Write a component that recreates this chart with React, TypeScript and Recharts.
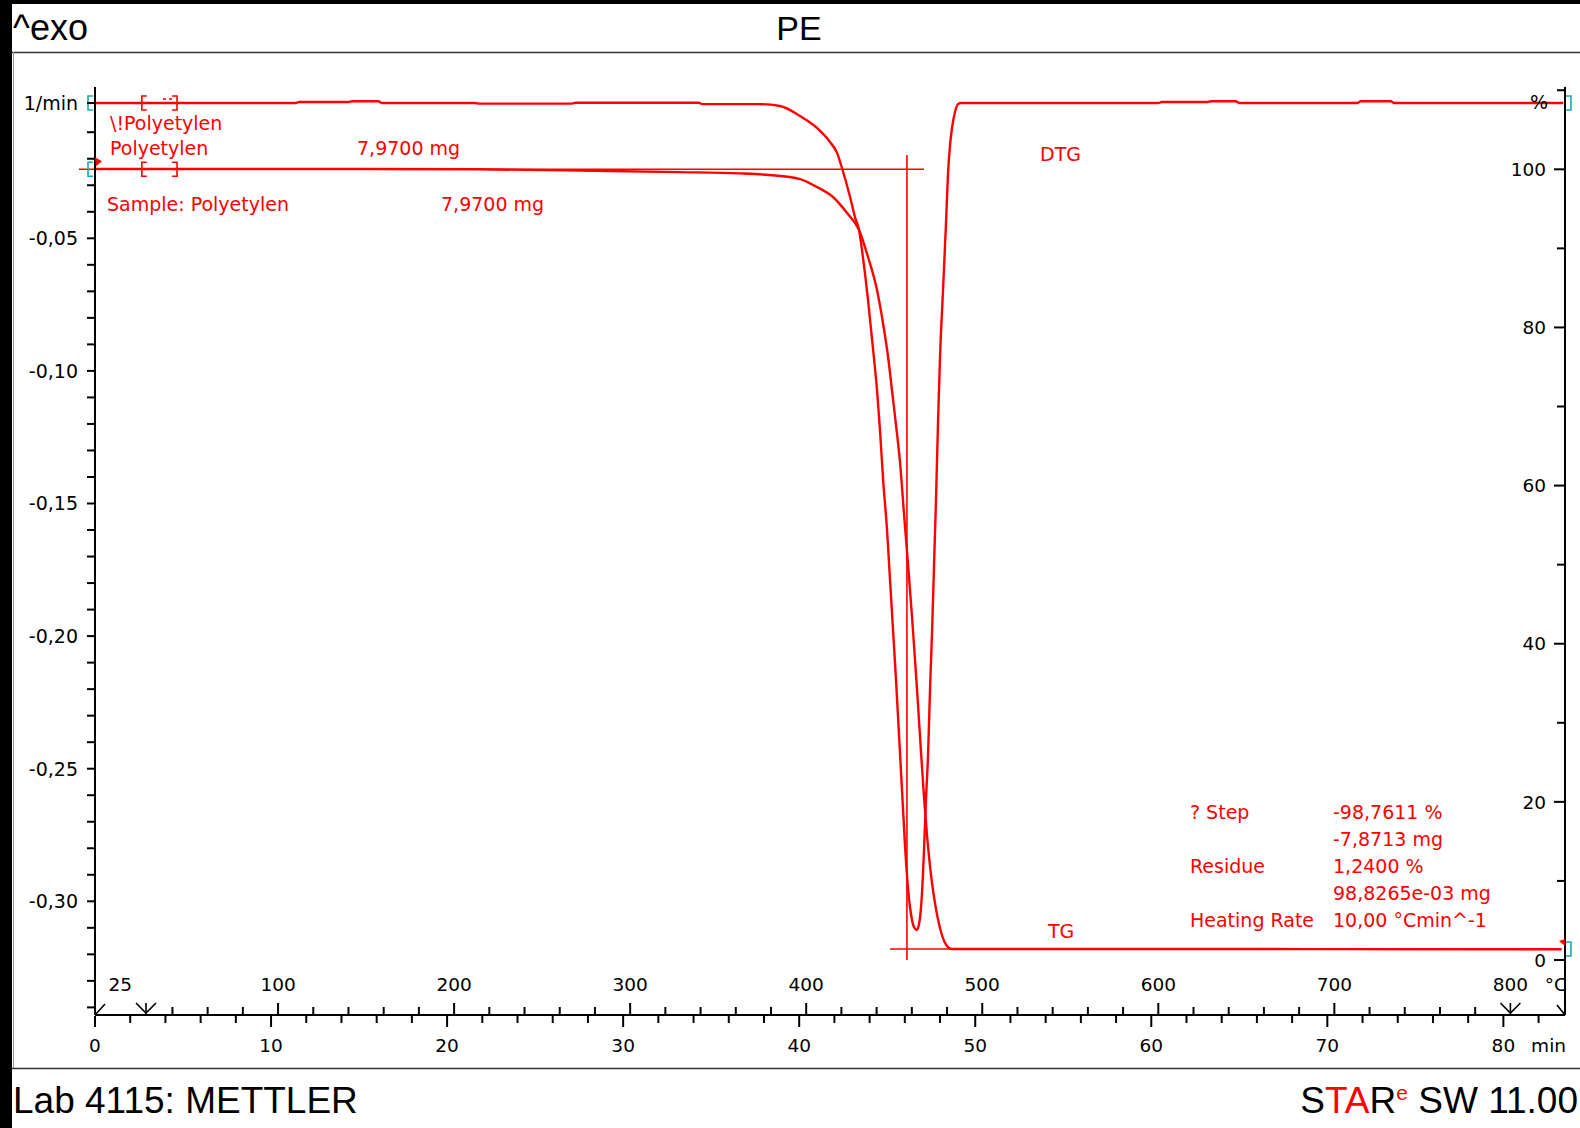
import React from 'react';
import { ComposedChart, Line, XAxis, YAxis, ReferenceLine, ReferenceDot } from 'recharts';

const W = 1580;
const H = 1128;
const RED = '#ff0000';
const CYAN = '#1aa9b4';
const TXT = '"DejaVu Sans", Verdana, sans-serif';
const HEAD = '"Liberation Sans", Arial, sans-serif';

// DTG curve (1/min) against time (min)
const dtgTime = [0, 11.4, 11.6, 14.4, 14.6, 16.1, 16.3, 21.6, 21.8, 27.1, 27.3, 34.3, 34.5, 37.66, 38.91, 40.05, 41.01, 41.75, 42.15, 42.43, 42.89, 43.17, 43.40, 43.62, 43.91, 44.19, 44.42, 44.59, 44.76, 44.99, 45.16, 45.33, 45.50, 45.67, 45.84, 46.01, 46.18, 46.35, 46.52, 46.69, 46.86, 46.97, 47.09, 47.20, 47.32, 47.43, 47.55, 47.66, 47.77, 47.89, 48.00, 48.17, 48.34, 48.45, 48.57, 48.68, 48.85, 49.02, 49.19, 60.4, 60.6, 63.2, 63.4, 64.8, 65.0, 71.7, 71.9, 73.6, 73.8, 83.4];
const dtgValue = [0.0010, 0.0010, 0.0014, 0.0014, 0.0017, 0.0017, 0.0010, 0.0010, 0.0008, 0.0008, 0.0011, 0.0011, 0.0006, 0.0006, -0.0001, -0.0039, -0.0084, -0.0137, -0.0178, -0.0235, -0.0344, -0.0420, -0.0469, -0.0571, -0.0733, -0.0914, -0.1072, -0.1223, -0.1404, -0.1600, -0.1789, -0.1977, -0.2165, -0.2373, -0.2580, -0.2788, -0.2950, -0.3048, -0.3097, -0.3108, -0.3063, -0.2976, -0.2807, -0.2618, -0.2448, -0.2203, -0.1977, -0.1732, -0.1487, -0.1185, -0.0947, -0.0695, -0.0442, -0.0261, -0.0148, -0.0084, -0.0024, 0.0006, 0.0010, 0.0010, 0.0014, 0.0014, 0.0017, 0.0017, 0.0010, 0.0010, 0.0017, 0.0017, 0.0010, 0.0010];

// TG curve (%) against time (min)
const tgTime = [0, 10, 21.7, 28.3, 33.2, 36.6, 38.3, 40.05, 41.01, 41.92, 42.72, 43.40, 43.91, 44.42, 44.76, 45.05, 45.27, 45.50, 45.73, 45.95, 46.18, 46.41, 46.58, 46.75, 46.92, 47.09, 47.26, 47.43, 47.60, 47.77, 48.00, 48.23, 48.45, 48.68, 55, 68.8, 83.3];
const tgValue = [100.04, 100.04, 100.0, 99.82, 99.65, 99.49, 99.28, 98.77, 97.76, 96.50, 94.47, 92.32, 88.91, 84.73, 80.56, 76.26, 72.09, 67.66, 62.86, 56.53, 50.08, 43.38, 37.94, 32.25, 26.30, 20.61, 15.81, 11.89, 8.85, 6.45, 4.05, 2.40, 1.64, 1.39, 1.40, 1.38, 1.35];

// time axis (min)
const timeDomain = [0, 83.5];
const timeTicks = [0, 2, 4, 6, 8, 10, 12, 14, 16, 18, 20, 22, 24, 26, 28, 30, 32, 34, 36, 38, 40, 42, 44, 46, 48, 50, 52, 54, 56, 58, 60, 62, 64, 66, 68, 70, 72, 74, 76, 78, 80, 82];
const timeLabels = [0, 10, 20, 30, 40, 50, 60, 70, 80];
// temperature scale (°C) shown on the same axis via the heating program
const heatingRate = 10.0;
const tempAtStart = -3.98;
const tempTicks = [40, 60, 80, 100, 120, 140, 160, 180, 200, 220, 240, 260, 280, 300, 320, 340, 360, 380, 400, 420, 440, 460, 480, 500, 520, 540, 560, 580, 600, 620, 640, 660, 680, 700, 720, 740, 760, 780];
const tempLabels = [100, 200, 300, 400, 500, 600, 700];
const tempSegment = [25, 800];
// left axis DTG (1/min)
const dtgDomain = [-0.34287, 0.00705];
const dtgUnitTick = 0.001;
const dtgTicks = [0.001, -0.01, -0.02, -0.03, -0.04, -0.05, -0.06, -0.07, -0.08, -0.09, -0.10, -0.11, -0.12, -0.13, -0.14, -0.15, -0.16, -0.17, -0.18, -0.19, -0.20, -0.21, -0.22, -0.23, -0.24, -0.25, -0.26, -0.27, -0.28, -0.29, -0.30, -0.31, -0.32, -0.33, -0.34];
const dtgLabels = [-0.05, -0.10, -0.15, -0.20, -0.25, -0.30];
// right axis TG (%)
const tgDomain = [-6.956, 110.41];
const tgTicks = [0, 10, 20, 30, 40, 50, 60, 70, 80, 90, 100, 110];
const tgLabels = [0, 20, 40, 60, 80, 100];

// evaluation construction (TG onset / residue)
const onsetLevel = 100.0;
const onsetSpan = [-0.91, 47.09];
const onsetTime = 46.12;
const onsetVertical = [101.81, 0.0];
const residueLevel = 1.39;
const residueSpan = [45.16, 83.3];
const dtgBase = 0.001;
const bracketTimes = [2.66, 4.66];

const near = (a: number, b: number) => Math.abs(a - b) < 1e-6;
const fmt = (v: number) => v.toFixed(2).replace('.', ',');
const tempToTime = (T: number) => (T - tempAtStart) / heatingRate;

type TickDef = { v: number; kind: string; label?: number };
const tickDefs: TickDef[] = [
  ...timeTicks.map((v) => ({ v, kind: 'time' })),
  ...tempTicks.map((T) => ({ v: tempToTime(T), kind: 'temp', label: T })),
  ...tempSegment.map((T) => ({ v: tempToTime(T), kind: 'seg', label: T })),
  { v: timeDomain[1], kind: 'end' },
];
const xTicks = tickDefs.map((d) => d.v);

const DtgTick = (p: any) => {
  const { x, y, payload } = p;
  const v = payload.value;
  const unit = near(v, dtgUnitTick);
  const major = dtgLabels.some((l) => near(l, v));
  return (
    <g>
      <line x1={x - 8} x2={x} y1={y} y2={y} stroke="#000" strokeWidth={2} />
      {(unit || major) && (
        <text x={x - 17} y={y} dy="0.36em" textAnchor="end" fontFamily={TXT} fontSize={19} fill="#000">
          {unit ? '1/min' : fmt(v)}
        </text>
      )}
    </g>
  );
};

const TgTick = (p: any) => {
  const { x, y, payload } = p;
  const v = payload.value;
  const major = tgLabels.some((l) => near(l, v));
  return (
    <g>
      <line x1={x - (major ? 11 : 8)} x2={x} y1={y} y2={y} stroke="#000" strokeWidth={2} />
      {major && (
        <text x={x - 19} y={y} dy="0.36em" textAnchor="end" fontFamily={TXT} fontSize={18.5} fill="#000">
          {v}
        </text>
      )}
      {near(v, 110) && (
        <text x={x - 17} y={y + 12} dy="0.36em" textAnchor="end" fontFamily={TXT} fontSize={19} fill="#000">
          %
        </text>
      )}
    </g>
  );
};

const XTick = (p: any) => {
  const { x, y, payload } = p;
  const v = payload.value;
  const def = tickDefs.find((d) => near(d.v, v));
  if (!def) return <g />;
  const txt = (tx: number, ty: number, s: string | number, anchor: string) => (
    <text x={tx} y={ty} textAnchor={anchor} fontFamily={TXT} fontSize={18.5} fill="#000">{s}</text>
  );
  const up = y - 24;
  const down = y + 37;
  if (def.kind === 'end') {
    return (
      <g>
        <path d={`M${x - 8} ${y - 10} L${x} ${y}`} stroke="#000" strokeWidth={1.6} fill="none" />
        {txt(x + 2, up, '°C', 'end')}
        {txt(x + 1, down, 'min', 'end')}
      </g>
    );
  }
  if (def.kind === 'time') {
    const major = timeLabels.some((l) => near(l, v));
    return (
      <g>
        <line x1={x} x2={x} y1={y + 1} y2={y + (major ? 12 : 8)} stroke="#000" strokeWidth={2} />
        {major && txt(x, down, v, 'middle')}
        {near(v, timeDomain[0]) && <path d={`M${x} ${y} L${x + 10} ${y - 11}`} stroke="#000" strokeWidth={1.6} fill="none" />}
      </g>
    );
  }
  if (def.kind === 'seg') {
    const first = near(def.label as number, tempSegment[0]);
    return (
      <g>
        <path d={`M${x - 10} ${y - 12} L${x} ${y - 2} L${x + 10} ${y - 12}`} stroke="#000" strokeWidth={1.6} fill="none" />
        <line x1={x} x2={x} y1={y - 12} y2={y - 1} stroke="#000" strokeWidth={1.6} />
        {txt(first ? x - 14 : x, up, def.label as number, first ? 'end' : 'middle')}
      </g>
    );
  }
  const major = tempLabels.some((l) => near(l, def.label as number));
  return (
    <g>
      <line x1={x} x2={x} y1={y - (major ? 12 : 8)} y2={y - 1} stroke="#000" strokeWidth={2} />
      {major && txt(x, up, def.label as number, 'middle')}
    </g>
  );
};

const OpenBracket = (color: string, dx: number) => (p: any) => {
  const { cx, cy } = p;
  const x = cx + dx;
  return <path d={`M${x + 5} ${cy - 7} L${x} ${cy - 7} L${x} ${cy + 7} L${x + 5} ${cy + 7}`} stroke={color} strokeWidth={1.6} fill="none" />;
};
const CloseBracket = (color: string, dx: number) => (p: any) => {
  const { cx, cy } = p;
  const x = cx + dx;
  return <path d={`M${x - 5} ${cy - 7} L${x} ${cy - 7} L${x} ${cy + 7} L${x - 5} ${cy + 7}`} stroke={color} strokeWidth={1.6} fill="none" />;
};
const Dots = (p: any) => {
  const { cx, cy } = p;
  return (
    <g stroke={RED} strokeWidth={1.6}>
      <line x1={cx - 14} x2={cx - 11} y1={cy - 4} y2={cy - 4} />
      <line x1={cx - 8} x2={cx - 5} y1={cy - 4} y2={cy - 4} />
    </g>
  );
};
const StartArrow = (p: any) => {
  const { cx, cy } = p;
  return <polygon points={`${cx},${cy - 12} ${cx + 7},${cy - 8} ${cx + 1},${cy - 3}`} fill={RED} />;
};
const EndArrow = (p: any) => {
  const { cx, cy } = p;
  return <polygon points={`${cx - 6},${cy - 8} ${cx},${cy - 10} ${cx},${cy - 3}`} fill={RED} />;
};

export default function App() {
  const dtgData = dtgTime.map((t, i) => ({ t, v: dtgValue[i] }));
  const tgData = tgTime.map((t, i) => ({ t, v: tgValue[i] }));
  const red = { fontFamily: TXT, fontSize: 19, fill: RED } as const;
  const stepRows = [
    ['? Step', '-98,7611 %'],
    ['', '-7,8713 mg'],
    ['Residue', '1,2400 %'],
    ['', '98,8265e-03 mg'],
    ['Heating Rate', '10,00 °Cmin^-1'],
  ];
  return (
    <div style={{ position: 'absolute', left: 0, top: 0, width: W, height: H, background: '#fff', overflow: 'hidden' }}>
      <svg style={{ position: 'absolute', left: 0, top: 0 }} width={W} height={H}>
        <rect x={0} y={0} width={W} height={4} fill="#000" />
        <rect x={0} y={0} width={12} height={H} fill="#000" />
        <line x1={12} x2={W} y1={52.5} y2={52.5} stroke="#333" strokeWidth={1.6} />
        <line x1={13.5} x2={13.5} y1={52} y2={1068} stroke="#9a9a9a" strokeWidth={1} />
        <line x1={12} x2={W} y1={1068.5} y2={1068.5} stroke="#333" strokeWidth={1.6} />
      </svg>
      <div style={{ position: 'absolute', left: 0, top: 0 }}>
        <ComposedChart width={W} height={H} margin={{ top: 87, right: 0, bottom: 112, left: 0 }}>
          <XAxis
            xAxisId="time"
            dataKey="t"
            type="number"
            domain={timeDomain}
            allowDataOverflow
            ticks={xTicks}
            interval={0}
            height={1}
            tickSize={0}
            tickMargin={0}
            tickLine={false}
            axisLine={{ stroke: '#000', strokeWidth: 2 }}
            tick={<XTick />}
          />
          <YAxis
            yAxisId="dtg"
            orientation="left"
            type="number"
            domain={dtgDomain}
            allowDataOverflow
            ticks={dtgTicks}
            interval={0}
            width={95}
            tickSize={0}
            tickMargin={0}
            tickLine={false}
            axisLine={{ stroke: '#000', strokeWidth: 2 }}
            tick={<DtgTick />}
          />
          <YAxis
            yAxisId="tg"
            orientation="right"
            type="number"
            domain={tgDomain}
            allowDataOverflow
            ticks={tgTicks}
            interval={0}
            width={15}
            tickSize={0}
            tickMargin={0}
            tickLine={false}
            axisLine={{ stroke: '#000', strokeWidth: 2 }}
            tick={<TgTick />}
          />
          <ReferenceLine xAxisId="time" yAxisId="tg" ifOverflow="visible" stroke={RED} strokeWidth={1.6}
            segment={[{ x: onsetSpan[0], y: onsetLevel }, { x: onsetSpan[1], y: onsetLevel }]} />
          <ReferenceLine xAxisId="time" yAxisId="tg" ifOverflow="visible" stroke={RED} strokeWidth={1.6}
            segment={[{ x: onsetTime, y: onsetVertical[0] }, { x: onsetTime, y: onsetVertical[1] }]} />
          <ReferenceLine xAxisId="time" yAxisId="tg" ifOverflow="visible" stroke={RED} strokeWidth={1.6}
            segment={[{ x: residueSpan[0], y: residueLevel }, { x: residueSpan[1], y: residueLevel }]} />
          <ReferenceLine xAxisId="time" yAxisId="dtg" ifOverflow="visible" stroke={RED} strokeWidth={1.6}
            segment={[{ x: -0.45, y: dtgBase }, { x: 0, y: dtgBase }]} />
          <Line xAxisId="time" yAxisId="dtg" data={dtgData} dataKey="v" type="monotone" stroke={RED}
            strokeWidth={2.4} dot={false} activeDot={false} isAnimationActive={false} />
          <Line xAxisId="time" yAxisId="tg" data={tgData} dataKey="v" type="monotone" stroke={RED}
            strokeWidth={2.4} dot={false} activeDot={false} isAnimationActive={false} />
          <ReferenceDot xAxisId="time" yAxisId="dtg" x={bracketTimes[0]} y={dtgBase} ifOverflow="visible" shape={OpenBracket(RED, 0)} />
          <ReferenceDot xAxisId="time" yAxisId="dtg" x={bracketTimes[1]} y={dtgBase} ifOverflow="visible" shape={CloseBracket(RED, 0)} />
          <ReferenceDot xAxisId="time" yAxisId="dtg" x={bracketTimes[1]} y={dtgBase} ifOverflow="visible" shape={Dots} />
          <ReferenceDot xAxisId="time" yAxisId="tg" x={bracketTimes[0]} y={onsetLevel} ifOverflow="visible" shape={OpenBracket(RED, 0)} />
          <ReferenceDot xAxisId="time" yAxisId="tg" x={bracketTimes[1]} y={onsetLevel} ifOverflow="visible" shape={CloseBracket(RED, 0)} />
          <ReferenceDot xAxisId="time" yAxisId="dtg" x={timeDomain[0]} y={dtgBase} ifOverflow="visible" shape={OpenBracket(CYAN, -7)} />
          <ReferenceDot xAxisId="time" yAxisId="tg" x={timeDomain[0]} y={onsetLevel} ifOverflow="visible" shape={OpenBracket(CYAN, -7)} />
          <ReferenceDot xAxisId="time" yAxisId="dtg" x={timeDomain[1]} y={dtgBase} ifOverflow="visible" shape={CloseBracket(CYAN, 6)} />
          <ReferenceDot xAxisId="time" yAxisId="tg" x={timeDomain[1]} y={residueLevel} ifOverflow="visible" shape={CloseBracket(CYAN, 6)} />
          <ReferenceDot xAxisId="time" yAxisId="tg" x={timeDomain[0]} y={onsetLevel} ifOverflow="visible" shape={StartArrow} />
          <ReferenceDot xAxisId="time" yAxisId="tg" x={timeDomain[1]} y={residueLevel} ifOverflow="visible" shape={EndArrow} />
        </ComposedChart>
      </div>
      <svg style={{ position: 'absolute', left: 0, top: 0, pointerEvents: 'none' }} width={W} height={H}>
        <text x={13} y={40} fontFamily={HEAD} fontSize={36} fill="#000">^exo</text>
        <text x={799} y={40} textAnchor="middle" fontFamily={HEAD} fontSize={34} fill="#000">PE</text>
        <text x={110} y={130} {...red}>\!Polyetylen</text>
        <text x={110} y={155} {...red}>Polyetylen</text>
        <text x={357} y={155} {...red}>7,9700 mg</text>
        <text x={107} y={211} {...red}>Sample: Polyetylen</text>
        <text x={441} y={211} {...red}>7,9700 mg</text>
        <text x={1040} y={161} {...red}>DTG</text>
        <text x={1048} y={938} {...red}>TG</text>
        {stepRows.map((r, i) => (
          <g key={i}>
            {r[0] && <text x={1190} y={819 + i * 27} {...red}>{r[0]}</text>}
            <text x={1333} y={819 + i * 27} {...red}>{r[1]}</text>
          </g>
        ))}
        <text x={13} y={1113} fontFamily={HEAD} fontSize={37} fill="#000">Lab 4115: METTLER</text>
        <text x={1578} y={1113} textAnchor="end" fontFamily={HEAD} fontSize={37} fill="#000">
          <tspan>S</tspan>
          <tspan fill={RED}>TA</tspan>
          <tspan>R</tspan>
          <tspan fill={RED} fontSize={21} dy={-13}>e</tspan>
          <tspan dy={13}> SW 11.00</tspan>
        </text>
      </svg>
    </div>
  );
}
